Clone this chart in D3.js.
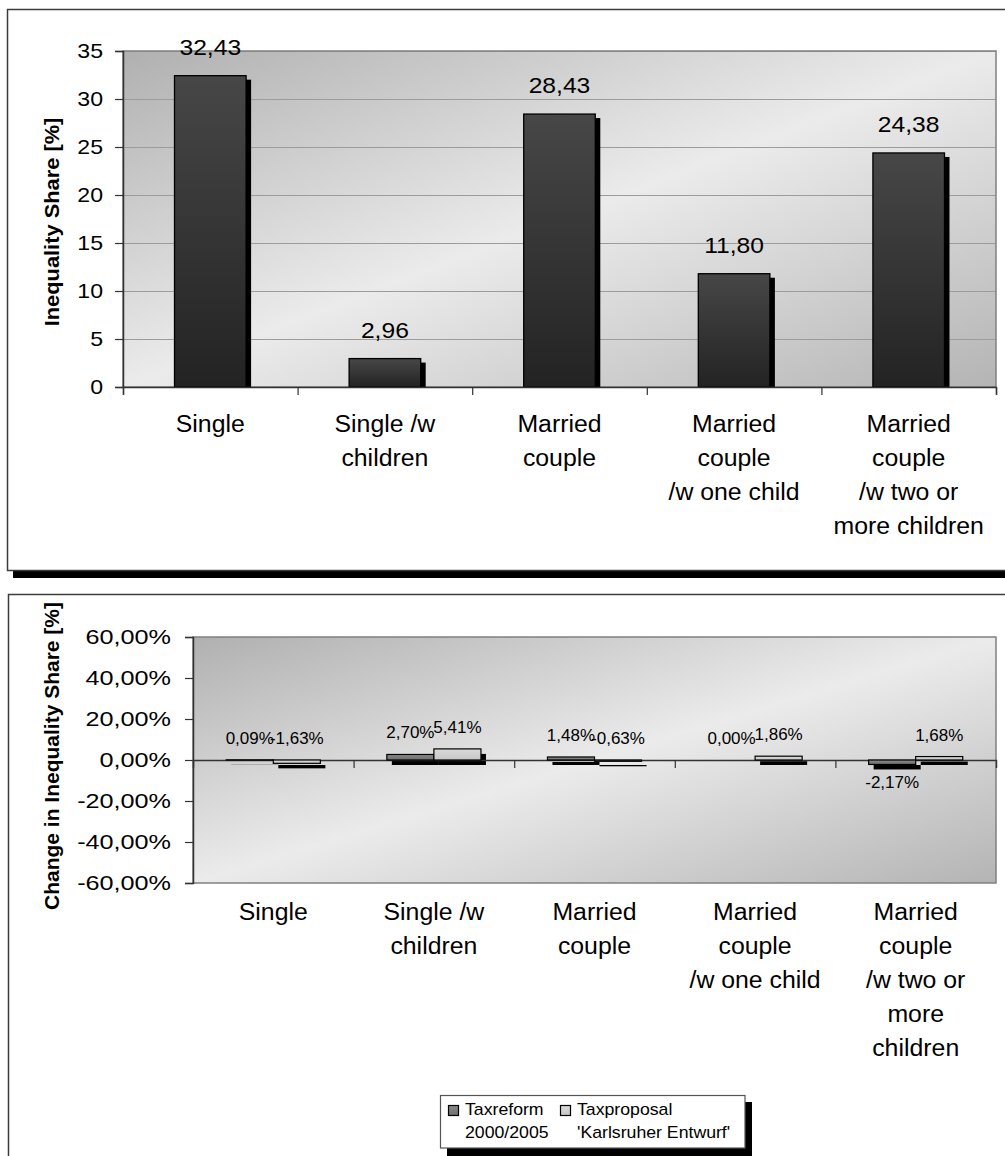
<!DOCTYPE html>
<html><head><meta charset="utf-8">
<script src="https://cdn.jsdelivr.net/npm/d3@7"></script>
<style>
body{margin:0;background:#fff}
svg{display:block}
text{font-family:"Liberation Sans", Arial, sans-serif; fill:#000}
</style>
</head><body>
<svg id="chart" width="1005" height="1156"></svg>
<script>
// ---------- DATA ----------
const categoriesTop = [["Single"], ["Single /w", "children"], ["Married", "couple"], ["Married", "couple", "/w one child"], ["Married", "couple", "/w two or", "more children"]];
const categoriesBottom = [["Single"], ["Single /w", "children"], ["Married", "couple"], ["Married", "couple", "/w one child"], ["Married", "couple", "/w two or", "more", "children"]];
const inequalityShare = [32.43, 2.96, 28.43, 11.80, 24.38];
const taxreform = [0.09, 2.70, 1.48, 0.00, -2.17];
const taxproposal = [-1.63, 5.41, -0.63, 1.86, 1.68];
const seriesNames = [["Taxreform", "2000/2005"], ["Taxproposal", "'Karlsruher Entwurf'"]];
const topTicks = [0, 5, 10, 15, 20, 25, 30, 35];
const bottomTicks = [-60, -40, -20, 0, 20, 40, 60];
const topTitle = "Inequality Share [%]";
const bottomTitle = "Change in Inequality Share [%]";

// ---------- HELPERS ----------
const loc = d3.formatLocale({decimal: ",", thousands: ".", grouping: [3], currency: ["", ""], minus: "-"});
const f2 = loc.format(".2f");
const pct = v => f2(v) + "%";
function stretch(sel, k) {
  sel.each(function () {
    const L = this.getComputedTextLength();
    this.setAttribute("textLength", L * k);
    this.setAttribute("lengthAdjust", "spacingAndGlyphs");
  });
}

const svg = d3.select("#chart");
const defs = svg.append("defs");

function bgGrad(id) {
  const g = defs.append("linearGradient").attr("id", id)
    .attr("x1", 0).attr("y1", 0).attr("x2", 1).attr("y2", 1);
  g.append("stop").attr("offset", 0).attr("stop-color", "#b0b0b0");
  g.append("stop").attr("offset", 0.5).attr("stop-color", "#ebebeb");
  g.append("stop").attr("offset", 1).attr("stop-color", "#b4b4b4");
}
bgGrad("bgTop"); bgGrad("bgBot");
function vGrad(id, c1, c2) {
  const g = defs.append("linearGradient").attr("id", id)
    .attr("x1", 0).attr("y1", 0).attr("x2", 0).attr("y2", 1);
  g.append("stop").attr("offset", 0).attr("stop-color", c1);
  g.append("stop").attr("offset", 1).attr("stop-color", c2);
}
vGrad("barDark", "#474747", "#232323");
vGrad("barMid", "#8a8a8a", "#6e6e6e");
vGrad("barLight", "#dadada", "#c6c6c6");
const seriesFill = ["url(#barMid)", "url(#barLight)"];

// ---------- FRAMES ----------
svg.append("rect").attr("x", 13).attr("y", 571).attr("width", 1000).attr("height", 7).attr("fill", "#000");
svg.append("rect").attr("x", 7.5).attr("y", 9.5).attr("width", 1010).attr("height", 561)
  .attr("fill", "#fff").attr("stroke", "#3c3c3c").attr("stroke-width", 1.5);
svg.append("rect").attr("x", 8.5).attr("y", 594.5).attr("width", 1010).attr("height", 620)
  .attr("fill", "#fff").attr("stroke", "#3c3c3c").attr("stroke-width", 1.5);

// ================= TOP CHART =================
const tp = {l: 123, r: 996, t: 51, b: 387};
const xT = d3.scaleBand().domain(d3.range(categoriesTop.length)).range([tp.l, tp.r]);
const yT = d3.scaleLinear().domain([0, 35]).range([tp.b, tp.t]);
const topG = svg.append("g");

topG.append("rect").attr("x", tp.l).attr("y", tp.t).attr("width", tp.r - tp.l).attr("height", tp.b - tp.t)
  .attr("fill", "url(#bgTop)");
// gridlines
topG.append("g").attr("transform", `translate(${tp.l},0)`)
  .call(d3.axisLeft(yT).tickValues(topTicks.slice(1)).tickSize(-(tp.r - tp.l)).tickFormat(""))
  .call(g => g.select(".domain").remove())
  .call(g => g.selectAll("line").attr("stroke", "#9c9c9c").attr("stroke-width", 1.2));
// plot border
topG.append("rect").attr("x", tp.l).attr("y", tp.t).attr("width", tp.r - tp.l).attr("height", tp.b - tp.t)
  .attr("fill", "none").attr("stroke", "#808080").attr("stroke-width", 1.5);

defs.append("clipPath").attr("id", "clipTop").append("rect")
  .attr("x", tp.l).attr("y", tp.t).attr("width", tp.r - tp.l).attr("height", tp.b - tp.t);

const bwT = xT.bandwidth() * 0.41;
const barsT = topG.append("g");
barsT.append("g").attr("clip-path", "url(#clipTop)").selectAll("rect").data(inequalityShare).join("rect")
  .attr("x", (d, i) => xT(i) + (xT.bandwidth() - bwT) / 2 + 5)
  .attr("y", d => yT(d) + 4)
  .attr("width", bwT).attr("height", d => yT(0) - yT(d))
  .attr("fill", "#000");
barsT.append("g").selectAll("rect").data(inequalityShare).join("rect")
  .attr("x", (d, i) => xT(i) + (xT.bandwidth() - bwT) / 2)
  .attr("y", d => yT(d))
  .attr("width", bwT).attr("height", d => yT(0) - yT(d))
  .attr("fill", "url(#barDark)").attr("stroke", "#000").attr("stroke-width", 1.3);
topG.append("g").selectAll("text").data(inequalityShare).join("text")
  .attr("x", (d, i) => xT(i) + xT.bandwidth() / 2)
  .attr("y", d => yT(d) - 21)
  .attr("text-anchor", "middle").attr("font-size", 22)
  .text(d => f2(d))
  .call(stretch, 1.12);

// y axis
topG.append("g").attr("transform", `translate(${tp.l},0)`)
  .call(d3.axisLeft(yT).tickValues(topTicks).tickSize(8).tickPadding(12).tickFormat(d => d))
  .call(g => g.select(".domain").attr("stroke", "#333").attr("stroke-width", 1.5))
  .call(g => g.selectAll(".tick line").attr("stroke", "#333").attr("stroke-width", 1.2))
  .call(g => g.selectAll("text").attr("font-size", 21).attr("font-family", "Liberation Sans, Arial, sans-serif").attr("fill", "#000").call(stretch, 1.1));
// x axis
const edgeT = d3.scaleLinear().domain([0, categoriesTop.length]).range([tp.l, tp.r]);
topG.append("g").attr("transform", `translate(0,${tp.b})`)
  .call(d3.axisBottom(edgeT).tickValues(d3.range(categoriesTop.length + 1)).tickSize(8).tickFormat(""))
  .call(g => g.select(".domain").attr("stroke", "#333").attr("stroke-width", 1.5))
  .call(g => g.selectAll(".tick line").attr("stroke", "#333").attr("stroke-width", 1.2));
categoriesTop.forEach((lines, i) => {
  lines.forEach((ln, j) => {
    topG.append("text").attr("x", xT(i) + xT.bandwidth() / 2).attr("y", tp.b + 45 + j * 34)
      .attr("text-anchor", "middle").attr("font-size", 23).text(ln).call(stretch, 1.08);
  });
});
topG.append("text").attr("transform", `translate(59,222) rotate(-90)`)
  .attr("text-anchor", "middle").attr("font-size", 21).attr("font-weight", "bold")
  .text(topTitle).call(stretch, 1.04);

// ================= BOTTOM CHART =================
const bp = {l: 193, r: 996, t: 637, b: 883};
const xB = d3.scaleBand().domain(d3.range(categoriesBottom.length)).range([bp.l, bp.r]);
const yB = d3.scaleLinear().domain([-60, 60]).range([bp.b, bp.t]);
const bw = xB.bandwidth() * 0.293;
const xSub = d3.scaleBand().domain([0, 1]).range([(xB.bandwidth() - 2 * bw) / 2, (xB.bandwidth() + 2 * bw) / 2]);
const botG = svg.append("g");

botG.append("rect").attr("x", bp.l).attr("y", bp.t).attr("width", bp.r - bp.l).attr("height", bp.b - bp.t)
  .attr("fill", "url(#bgBot)");
botG.append("rect").attr("x", bp.l).attr("y", bp.t).attr("width", bp.r - bp.l).attr("height", bp.b - bp.t)
  .attr("fill", "none").attr("stroke", "#808080").attr("stroke-width", 1.5);
defs.append("clipPath").attr("id", "clipBot").append("rect")
  .attr("x", bp.l).attr("y", bp.t).attr("width", bp.r - bp.l).attr("height", bp.b - bp.t);

const series = [taxreform, taxproposal];
const flat = [];
series.forEach((vals, s) => vals.forEach((v, i) => flat.push({s, i, v})));

// shadows
botG.append("g").attr("clip-path", "url(#clipBot)").selectAll("rect").data(flat.filter(d => d.v !== 0)).join("rect")
  .attr("x", d => xB(d.i) + xSub(d.s) + 5)
  .attr("y", d => yB(Math.max(d.v, 0)) + 5)
  .attr("width", bw).attr("height", d => Math.abs(yB(d.v) - yB(0)))
  .attr("fill", "#000");
// zero axis line
const edgeB = d3.scaleLinear().domain([0, categoriesBottom.length]).range([bp.l, bp.r]);
botG.append("g").attr("transform", `translate(0,${yB(0)})`)
  .call(d3.axisBottom(edgeB).tickValues(d3.range(categoriesBottom.length + 1)).tickSize(8).tickFormat(""))
  .call(g => g.select(".domain").attr("stroke", "#333").attr("stroke-width", 1.3))
  .call(g => g.selectAll(".tick line").attr("stroke", "#333").attr("stroke-width", 1.2));
// bars
botG.append("g").selectAll("rect").data(flat.filter(d => d.v !== 0)).join("rect")
  .attr("x", d => xB(d.i) + xSub(d.s))
  .attr("y", d => yB(Math.max(d.v, 0)))
  .attr("width", bw).attr("height", d => Math.abs(yB(d.v) - yB(0)))
  .attr("fill", d => seriesFill[d.s]).attr("stroke", "#000").attr("stroke-width", 1.2);
// value labels
const belowWhenNegative = [true, false];
botG.append("g").selectAll("text").data(flat).join("text")
  .attr("x", d => xB(d.i) + xSub(d.s) + bw / 2)
  .attr("y", d => (d.v < 0 && belowWhenNegative[d.s]) ? yB(d.v) + 24 : yB(Math.max(d.v, 0)) - 16)
  .attr("text-anchor", "middle").attr("font-size", 17)
  .text(d => pct(d.v));

// y axis
botG.append("g").attr("transform", `translate(${bp.l},0)`)
  .call(d3.axisLeft(yB).tickValues(bottomTicks).tickSize(8).tickPadding(14).tickFormat(d => pct(d)))
  .call(g => g.select(".domain").attr("stroke", "#333").attr("stroke-width", 1.5))
  .call(g => g.selectAll(".tick line").attr("stroke", "#333").attr("stroke-width", 1.2))
  .call(g => g.selectAll("text").attr("font-size", 21).attr("font-family", "Liberation Sans, Arial, sans-serif").attr("fill", "#000").call(stretch, 1.2));
categoriesBottom.forEach((lines, i) => {
  lines.forEach((ln, j) => {
    botG.append("text").attr("x", xB(i) + xB.bandwidth() / 2).attr("y", 920 + j * 34)
      .attr("text-anchor", "middle").attr("font-size", 23).text(ln).call(stretch, 1.08);
  });
});
botG.append("text").attr("transform", `translate(59,756) rotate(-90)`)
  .attr("text-anchor", "middle").attr("font-size", 21).attr("font-weight", "bold")
  .text(bottomTitle).call(stretch, 1.0);

// legend
const lg = botG.append("g");
lg.append("rect").attr("x", 447).attr("y", 1102).attr("width", 305).attr("height", 60).attr("fill", "#000");
lg.append("rect").attr("x", 440.5).attr("y", 1095.5).attr("width", 304.5).attr("height", 52.5)
  .attr("fill", "#fff").attr("stroke", "#555").attr("stroke-width", 1.2);
const lgX = [448, 560];
seriesNames.forEach((nm, s) => {
  lg.append("rect").attr("x", lgX[s] + 0.5).attr("y", 1105.5).attr("width", 10).attr("height", 10)
    .attr("fill", seriesFill[s]).attr("stroke", "#000").attr("stroke-width", 1.2);
  nm.forEach((t, j) => {
    lg.append("text").attr("x", lgX[s] + 17).attr("y", 1115 + j * 23).attr("font-size", 17).text(t).call(stretch, 1.04);
  });
});
</script>
</body></html>
